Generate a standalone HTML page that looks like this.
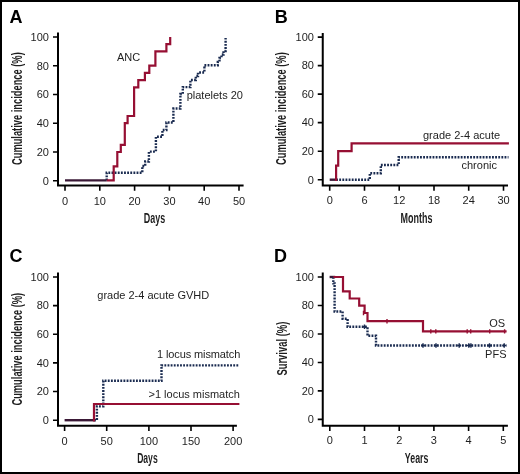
<!DOCTYPE html>
<html><head><meta charset="utf-8">
<style>
html,body{margin:0;padding:0;background:#fff;}
body{width:520px;height:474px;overflow:hidden;}
svg{display:block;will-change:transform;}
text{font-family:"Liberation Sans",sans-serif;fill:#1e1e1e;}
.t{font-size:11px;}
.lt{font-size:14px;font-weight:bold;}
.pl{font-size:18px;font-weight:bold;fill:#000;}
.ax{stroke:#000;stroke-width:2;fill:none;stroke-linecap:square;}
.tk{stroke:#000;stroke-width:1.6;fill:none;}
.r{stroke:#960f33;stroke-width:2.2;fill:none;}
.b{stroke:#1a2b50;stroke-width:2.4;fill:none;stroke-dasharray:1.85 1.28;}
.m{stroke:#3a1836;stroke-width:2.4;fill:none;}
.cr{stroke:#960f33;stroke-width:1.4;fill:none;}
.cb{stroke:#1a2b50;stroke-width:1.4;fill:none;}
</style></head>
<body>
<svg width="520" height="474" viewBox="0 0 520 474">
<rect x="1" y="1" width="518" height="472" fill="#fff" stroke="#000" stroke-width="2"/>
<!-- A -->
<text class="pl" x="9.6" y="22.6">A</text>
<g class="t" text-anchor="end">
<text x="48.9" y="40.80">100</text>
<text x="48.9" y="69.54">80</text>
<text x="48.9" y="98.28">60</text>
<text x="48.9" y="127.02">40</text>
<text x="48.9" y="155.76">20</text>
<text x="48.9" y="184.50">0</text>
</g>
<g class="t" text-anchor="middle">
<text x="65" y="204.7">0</text>
<text x="99.8" y="204.7">10</text>
<text x="134.6" y="204.7">20</text>
<text x="169.4" y="204.7">30</text>
<text x="204.2" y="204.7">40</text>
<text x="239" y="204.7">50</text>
</g>
<text class="lt" text-anchor="middle" transform="translate(154.55,222.7) scale(0.641,1)">Days</text>
<text class="lt" text-anchor="middle" transform="translate(21.9,108.65) rotate(-90) scale(0.666,1)">Cumulative incidence (%)</text>
<path class="tk" d="M53,37.0H58M53,65.74H58M53,94.48H58M53,123.22H58M53,151.96H58M53,180.7H58M65,185.5V190.7M99.8,185.5V190.7M134.6,185.5V190.7M169.4,185.5V190.7M204.2,185.5V190.7M239,185.5V190.7"/>
<path class="ax" d="M58,33.5V185.5H242.6"/>
<path class="m" d="M65,180.4H106.7"/>
<path class="b" d="M106.7,180.4V172.7H142.3V166H145.2V161.5H148.9V151.6H155.9V136.8H162.4V130H166.4V122.5H173.4V108.5H180.4V94H182.8V87.1H190.4V80H195.8V76H198V72.5H204.4V65.3H217.8V62H219.5V58H221.5V54.5H223.5V51H225.6V38"/>
<path class="r" d="M106.7,180.4H113.7V166.3H117.3V152H120.8V144.8H124.8V123.2H127.6V116H134.1V87.3H138.3V80.1H144.9V72.9H149.3V65.7H155.4V51.4H166.4V44.2H170.2V37"/>
<text class="t" x="117" y="60.9">ANC</text>
<text class="t" x="186.7" y="99.1">platelets 20</text>
<!-- B -->
<text class="pl" x="274.7" y="22.6">B</text>
<g class="t" text-anchor="end">
<text x="313.9" y="40.90">100</text>
<text x="313.9" y="69.42">80</text>
<text x="313.9" y="97.94">60</text>
<text x="313.9" y="126.46">40</text>
<text x="313.9" y="154.98">20</text>
<text x="313.9" y="183.50">0</text>
</g>
<g class="t" text-anchor="middle">
<text x="329.7" y="204.3">0</text>
<text x="364.5" y="204.3">6</text>
<text x="399.2" y="204.3">12</text>
<text x="434" y="204.3">18</text>
<text x="468.7" y="204.3">24</text>
<text x="503.5" y="204.3">30</text>
</g>
<text class="lt" text-anchor="middle" transform="translate(416.5,223.1) scale(0.642,1)">Months</text>
<text class="lt" text-anchor="middle" transform="translate(286.4,108.65) rotate(-90) scale(0.666,1)">Cumulative incidence (%)</text>
<path class="tk" d="M317.75,37.1H322.75M317.75,65.62H322.75M317.75,94.14H322.75M317.75,122.66H322.75M317.75,151.18H322.75M317.75,179.7H322.75M329.7,185.5V190.7M364.5,185.5V190.7M399.2,185.5V190.7M434,185.5V190.7M468.7,185.5V190.7M503.5,185.5V190.7"/>
<path class="ax" d="M322.75,34V185.5H507"/>
<path class="m" d="M329.7,179.7H336.1"/>
<path class="b" d="M336.1,179.7H369.8V173.2H380.8V165H398.7V157.2H508.5"/>
<path class="r" d="M336.1,180.9V165.6H338.2V151.2H351.6V143.4H508.9"/>
<text class="t" x="423" y="138.8">grade 2-4 acute</text>
<text class="t" x="461.5" y="168.6">chronic</text>
<!-- C -->
<text class="pl" x="9.6" y="262.3">C</text>
<g class="t" text-anchor="end">
<text x="48.9" y="280.80">100</text>
<text x="48.9" y="309.44">80</text>
<text x="48.9" y="338.08">60</text>
<text x="48.9" y="366.72">40</text>
<text x="48.9" y="395.36">20</text>
<text x="48.9" y="424.00">0</text>
</g>
<g class="t" text-anchor="middle">
<text x="64.6" y="444.6">0</text>
<text x="106.7" y="444.6">50</text>
<text x="148.9" y="444.6">100</text>
<text x="191" y="444.6">150</text>
<text x="233.1" y="444.6">200</text>
</g>
<text class="lt" text-anchor="middle" transform="translate(147.4,462.7) scale(0.613,1)">Days</text>
<text class="lt" text-anchor="middle" transform="translate(21.9,349.2) rotate(-90) scale(0.666,1)">Cumulative incidence (%)</text>
<path class="tk" d="M53,277.0H58M53,305.64H58M53,334.28H58M53,362.92H58M53,391.56H58M53,420.2H58M64.6,425.75V430.95M106.7,425.75V430.95M148.9,425.75V430.95M191,425.75V430.95M233.1,425.75V430.95"/>
<path class="ax" d="M58,273.4V425.75H235.9"/>
<path class="m" d="M64.6,420.2H94"/>
<path class="b" d="M94,420.2H96.9V406.4H103.3V380.8H161.5V365.4H239.4"/>
<path class="r" d="M94,421.4V404H239.4"/>
<text class="t" x="97.3" y="299.4">grade 2-4 acute GVHD</text>
<text class="t" x="157.1" y="358.2" letter-spacing="-0.12">1 locus mismatch</text>
<text class="t" x="148.5" y="398.3">&gt;1 locus mismatch</text>
<!-- D -->
<text class="pl" x="273.9" y="262.3">D</text>
<g class="t" text-anchor="end">
<text x="313.9" y="280.80">100</text>
<text x="313.9" y="309.28">80</text>
<text x="313.9" y="337.76">60</text>
<text x="313.9" y="366.24">40</text>
<text x="313.9" y="394.72">20</text>
<text x="313.9" y="423.20">0</text>
</g>
<g class="t" text-anchor="middle">
<text x="329.8" y="443.7">0</text>
<text x="364.5" y="443.7">1</text>
<text x="399.2" y="443.7">2</text>
<text x="433.9" y="443.7">3</text>
<text x="468.6" y="443.7">4</text>
<text x="503.3" y="443.7">5</text>
</g>
<text class="lt" text-anchor="middle" transform="translate(416.6,463.1) scale(0.631,1)">Years</text>
<text class="lt" text-anchor="middle" transform="translate(286.5,348.65) rotate(-90) scale(0.674,1)">Survival (%)</text>
<path class="tk" d="M317.75,277.0H322.75M317.75,305.48H322.75M317.75,333.96H322.75M317.75,362.44H322.75M317.75,390.92H322.75M317.75,419.4H322.75M329.8,425.75V430.95M364.5,425.75V430.95M399.2,425.75V430.95M433.9,425.75V430.95M468.6,425.75V430.95M503.3,425.75V430.95"/>
<path class="ax" d="M322.75,273.4V425.75H506.9"/>
<path class="m" d="M329.6,277H335.2"/>
<path class="b" d="M333.3,277V283.4H334.6V311.5H342.6V318.7H347.6V326.8H367.5V335.8H376V345.5H506.5"/>
<path class="r" d="M333.3,277H343V291.3H349.7V298.5H359.2V305.7H364.6V313H367.5V321.2H423V331.4H506.6"/>
<path class="cr" d="M363.5,310.8V315.2M387,319.0V323.4M430.8,329.2V333.59999999999997M435.8,329.2V333.59999999999997M467.2,329.2V333.59999999999997M470.7,329.2V333.59999999999997M489.7,329.2V333.59999999999997M504.6,329.2V333.59999999999997"/>
<path class="cb" d="M364.5,324.6V329.0M362.5,326.8H366.5M423,343.3V347.7M421,345.5H425M436,343.3V347.7M434,345.5H438M459.2,343.3V347.7M457.2,345.5H461.2M468.8,343.3V347.7M466.8,345.5H470.8M470.9,343.3V347.7M468.9,345.5H472.9M489.5,343.3V347.7M487.5,345.5H491.5M504.2,343.3V347.7M502.2,345.5H506.2"/>
<text class="t" x="489.3" y="327">OS</text>
<text class="t" x="485.1" y="357.9">PFS</text>
</svg>
</body></html>
